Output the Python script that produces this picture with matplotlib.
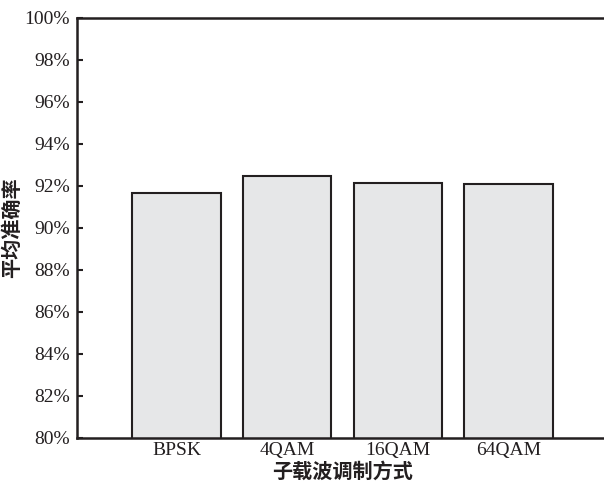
import matplotlib
matplotlib.use("Agg")
import matplotlib.pyplot as plt
from matplotlib.ticker import FuncFormatter

categories = ["BPSK", "4QAM", "16QAM", "64QAM"]
accuracy = [91.67, 92.46, 92.16, 92.11]
yticks = [80, 82, 84, 86, 88, 90, 92, 94, 96, 98, 100]

cjk = ["Noto Sans CJK SC", "DejaVu Sans"]
serif = "Liberation Serif"

fig = plt.figure(figsize=(6.04, 4.84), dpi=100)
ax = fig.add_axes([77/604, 46/484, 531/604, 420/484])

x = list(range(len(categories)))
ax.bar(x, accuracy, width=0.8, color="#e6e7e8", edgecolor="#231f20", linewidth=1.5, zorder=2)

ax.set_xlim(-0.9, 3.9)
ax.set_ylim(80, 100)
ax.set_yticks(yticks)
ax.yaxis.set_major_formatter(FuncFormatter(lambda v, p: f"{v:.0f}%"))
ax.set_xticks(x)
ax.set_xticklabels(categories)

for lab in ax.get_xticklabels() + ax.get_yticklabels():
    lab.set_fontfamily(serif)
    lab.set_fontsize(14)
    lab.set_color("#231f20")

ax.tick_params(axis="y", direction="in", length=4, width=1.5, color="#231f20", pad=5)
ax.tick_params(axis="x", length=0, pad=3)

for side in ["left", "bottom", "top"]:
    ax.spines[side].set_linewidth(1.8)
    ax.spines[side].set_color("#231f20")
ax.spines["right"].set_visible(False)

ax.set_xlabel("子载波调制方式", family=cjk, fontsize=14.5, fontweight="bold", color="#231f20", labelpad=1)
ax.set_ylabel("平均准确率", family=cjk, fontsize=14.5, fontweight="bold", color="#231f20", labelpad=2)

fig.savefig("out.png", dpi=100)
